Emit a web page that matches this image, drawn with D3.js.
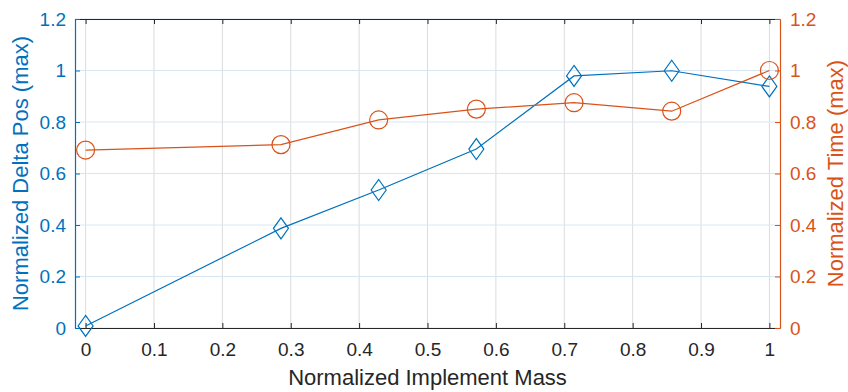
<!DOCTYPE html>
<meta charset="utf-8">
<script src="https://d3js.org/d3.v7.min.js"></script>
<style>
  body { margin: 0; background: #fff; }
  text { font-family: "Liberation Sans", Arial, sans-serif; }
</style>
<div id="chart"></div>
<script>
// data
const massValues = [0, 2/7, 3/7, 4/7, 5/7, 6/7, 1];
const deltaPos = [0.008, 0.387, 0.536, 0.695, 0.979, 0.999, 0.938];
const timeVals = [0.691, 0.712, 0.808, 0.850, 0.875, 0.842, 1.0];
const xTicks = [0, 0.1, 0.2, 0.3, 0.4, 0.5, 0.6, 0.7, 0.8, 0.9, 1];
const yTicks = [0, 0.2, 0.4, 0.6, 0.8, 1, 1.2];

const W = 848, H = 392;
const plotL = 75, plotR = 780, plotT = 19, plotB = 328;
const blue = "#0072BD", orange = "#D95319", dark = "#262626";

const svg = d3.select("#chart").append("svg")
  .attr("width", W).attr("height", H);

const x = d3.scaleLinear().domain([-0.0155, 1.0155]).range([plotL, plotR]);
const yL = d3.scaleLinear().domain([0, 1.2]).range([plotB, plotT]);
const yR = d3.scaleLinear().domain([0, 1.2]).range([plotB, plotT]);

// grid
svg.append("g").selectAll("line").data(xTicks).join("line")
  .attr("x1", d => x(d)).attr("x2", d => x(d))
  .attr("y1", plotT).attr("y2", plotB)
  .attr("stroke", "#dcdcdc").attr("stroke-width", 1);
svg.append("g").selectAll("line").data(yTicks).join("line")
  .attr("x1", plotL).attr("x2", plotR)
  .attr("y1", d => yL(d)).attr("y2", d => yL(d))
  .attr("stroke", "#d8e6f3").attr("stroke-width", 1);

// bottom axis
const fmt = d => d3.format("~g")(d);
const gx = svg.append("g").attr("transform", `translate(0,${plotB})`)
  .call(d3.axisBottom(x).tickValues(xTicks).tickFormat(fmt).tickSizeInner(-5).tickSizeOuter(0).tickPadding(15));
gx.select(".domain").attr("stroke", dark).attr("stroke-width", 1.2);
gx.selectAll(".tick line").attr("stroke", dark);
gx.selectAll("text").attr("fill", dark).style("font-size", "19px");

// top axis
const gt = svg.append("g").attr("transform", `translate(0,${plotT})`)
  .call(d3.axisTop(x).tickValues(xTicks).tickFormat("").tickSizeInner(-5).tickSizeOuter(0));
gt.select(".domain").attr("stroke", dark).attr("stroke-width", 1.2);
gt.selectAll(".tick line").attr("stroke", dark);

// left axis
const gl = svg.append("g").attr("transform", `translate(${plotL},0)`)
  .call(d3.axisLeft(yL).tickValues(yTicks).tickFormat(fmt).tickSizeInner(-5).tickSizeOuter(0).tickPadding(9));
gl.select(".domain").attr("stroke", blue).attr("stroke-width", 1.2);
gl.selectAll(".tick line").attr("stroke", blue);
gl.selectAll("text").attr("fill", blue).style("font-size", "19px");

// right axis
const gr = svg.append("g").attr("transform", `translate(${plotR},0)`)
  .call(d3.axisRight(yR).tickValues(yTicks).tickFormat(fmt).tickSizeInner(-5).tickSizeOuter(0).tickPadding(10));
gr.select(".domain").attr("stroke", orange).attr("stroke-width", 1.2);
gr.selectAll(".tick line").attr("stroke", orange);
gr.selectAll("text").attr("fill", orange).style("font-size", "19px");

// axis titles
svg.append("text").attr("x", 427.5).attr("y", 385)
  .attr("text-anchor", "middle").attr("fill", dark).style("font-size", "22px")
  .text("Normalized Implement Mass");
svg.append("text").attr("transform", `translate(27.5,173.5) rotate(-90)`)
  .attr("text-anchor", "middle").attr("fill", blue).style("font-size", "22px")
  .text("Normalized Delta Pos (max)");
svg.append("text").attr("transform", `translate(843,173.5) rotate(-90)`)
  .attr("text-anchor", "middle").attr("fill", orange).style("font-size", "22px")
  .text("Normalized Time (max)");

// series
const blueData = massValues.map((m, i) => [m, deltaPos[i]]);
const orangeData = massValues.map((m, i) => [m, timeVals[i]]);

svg.append("path").datum(blueData)
  .attr("fill", "none").attr("stroke", blue).attr("stroke-width", 1.2)
  .attr("d", d3.line().x(d => x(d[0])).y(d => yL(d[1])));
svg.append("g").selectAll("path").data(blueData).join("path")
  .attr("transform", d => `translate(${x(d[0])},${yL(d[1])})`)
  .attr("d", "M0,-10.5L7.5,0L0,10.5L-7.5,0Z")
  .attr("fill", "none").attr("stroke", blue).attr("stroke-width", 1.2);

svg.append("path").datum(orangeData)
  .attr("fill", "none").attr("stroke", orange).attr("stroke-width", 1.2)
  .attr("d", d3.line().x(d => x(d[0])).y(d => yR(d[1])));
svg.append("g").selectAll("circle").data(orangeData).join("circle")
  .attr("cx", d => x(d[0])).attr("cy", d => yR(d[1])).attr("r", 9)
  .attr("fill", "none").attr("stroke", orange).attr("stroke-width", 1.2);
</script>
